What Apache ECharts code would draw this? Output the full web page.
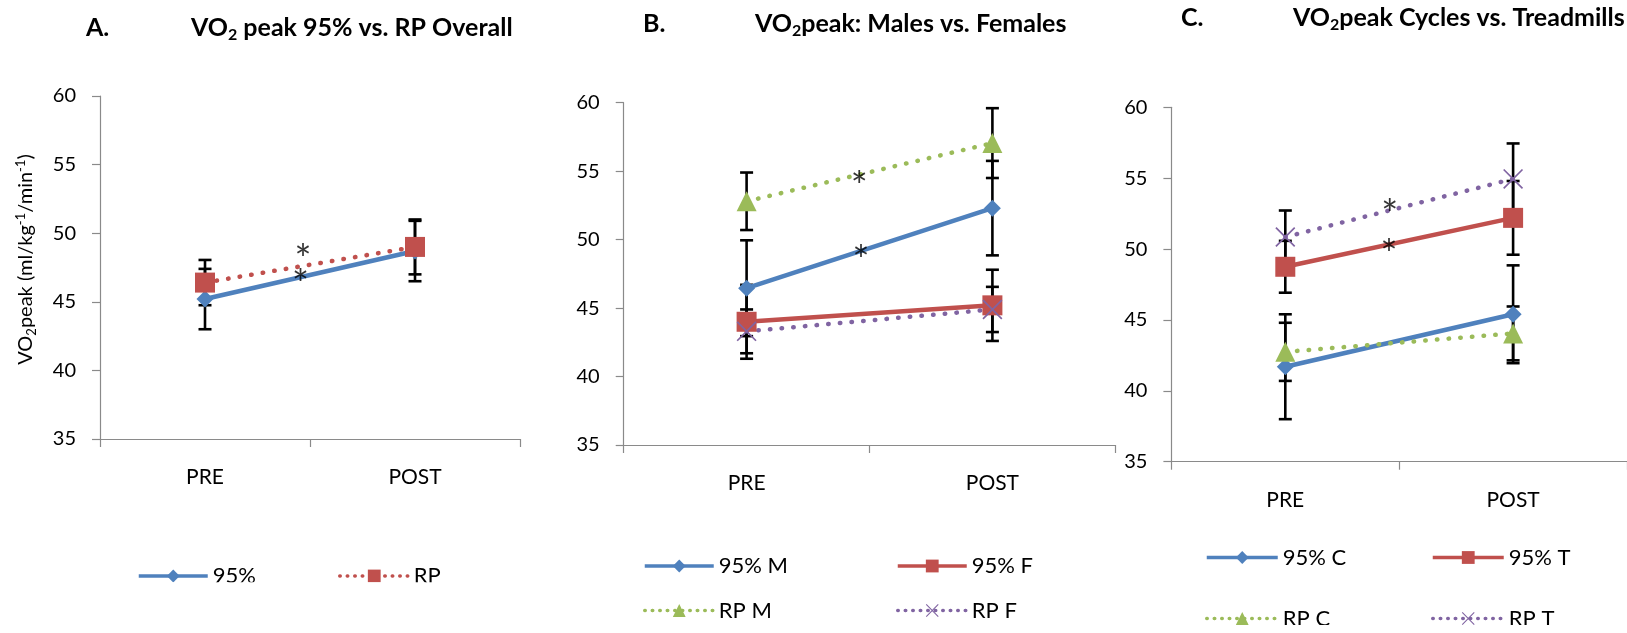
<!DOCTYPE html>
<html>
<head>
<meta charset="utf-8">
<script src="https://cdn.jsdelivr.net/npm/echarts@6/dist/echarts.min.js"></script>
<style>
  html, body { margin: 0; padding: 0; background: #fff; }
  #main { width: 1627px; height: 633px; }
</style>
</head>
<body>
<div id="main"></div>
<script>
// ---- data ----
var categories = ['PRE', 'POST'];

// A. overall
var a95 = [45.2, 48.7];
var a95Err = [2.2, 2.2];
var aRP = [46.4, 49.0];
var aRPErr = [1.65, 2.0];
var aStars = [[0.967, 48.63], [0.955, 46.78]];

// B. males vs females
var b95M = [46.45, 52.3];
var b95MErr = [3.5, 3.45];
var b95F = [44.0, 45.2];
var b95FErr = [2.7, 2.6];
var bRPM = [52.8, 57.05];
var bRPMErr = [2.1, 2.55];
var bRPF = [43.3, 44.9];
var bRPFErr = [1.6, 1.65];
var bStars = [[0.958, 54.4], [0.965, 49.05]];

// C. cycles vs treadmills
var c95C = [41.7, 45.4];
var c95CErr = [3.7, 3.45];
var c95T = [48.75, 52.2];
var c95TErr = [1.83, 2.6];
var cRPC = [42.75, 44.05];
var cRPCErr = [2.05, 1.9];
var cRPT = [50.85, 54.95];
var cRPTErr = [1.87, 2.5];
var cStars = [[0.958, 52.98], [0.955, 50.16]];

// ---- styles ----
var BLUE = '#4F81BD', RED = '#C0504D', GREEN = '#9BBB59', PURPLE = '#8064A2';
var FONT = 'Lato';
var CROSS = 'path://M0,0.6L0.6,0L10,9.4L9.4,10ZM9.4,0L10,0.6L0.6,10L0,9.4Z';

var myChart = echarts.init(document.getElementById('main'));

function lineSeries(name, data, g, color, dotted, symbol, size) {
  return {
    name: name,
    type: 'line',
    xAxisIndex: g,
    yAxisIndex: g,
    data: data,
    z: 3,
    animation: false,
    symbol: symbol,
    symbolSize: size,
    showSymbol: true,
    itemStyle: { color: color },
    lineStyle: dotted
      ? { color: color, width: 4.5, type: [0.5, 11.2], cap: 'round' }
      : { color: color, width: 4.5, type: 'solid' }
  };
}

function errSeries(g, means, errs) {
  var d = [];
  for (var i = 0; i < means.length; i++) {
    d.push([i, means[i] - errs[i], means[i] + errs[i]]);
  }
  return {
    type: 'custom',
    xAxisIndex: g,
    yAxisIndex: g,
    z: 1,
    animation: false,
    encode: { x: 0, y: [1, 2] },
    data: d,
    renderItem: function (params, api) {
      var lo = api.coord([api.value(0), api.value(1)]);
      var hi = api.coord([api.value(0), api.value(2)]);
      var h = 6.5;
      var st = { stroke: '#000', lineWidth: 2.6 };
      return {
        type: 'group',
        children: [
          { type: 'line', shape: { x1: hi[0], y1: hi[1], x2: lo[0], y2: lo[1] }, style: st },
          { type: 'line', shape: { x1: hi[0] - h, y1: hi[1], x2: hi[0] + h, y2: hi[1] }, style: st },
          { type: 'line', shape: { x1: lo[0] - h, y1: lo[1], x2: lo[0] + h, y2: lo[1] }, style: st }
        ]
      };
    }
  };
}

function starSeries(g, pts) {
  return {
    type: 'scatter',
    xAxisIndex: 3 + g,
    yAxisIndex: g,
    z: 5,
    animation: false,
    symbol: 'circle',
    symbolSize: 1,
    itemStyle: { color: 'rgba(0,0,0,0)' },
    label: {
      show: true,
      position: 'inside',
      formatter: '*',
      color: '#000',
      fontFamily: FONT,
      fontSize: 40,
      offset: [0, 9]
    },
    data: pts
  };
}

var grids = [
  { left: 100, top: 96, width: 420, height: 343 },
  { left: 623.7, top: 102.7, width: 491.6, height: 342.3 },
  { left: 1171.4, top: 107.3, width: 471, height: 354.4 }
];

var xAxes = [];
var yAxes = [];
for (var g = 0; g < 3; g++) {
  xAxes.push({
    type: 'category',
    gridIndex: g,
    data: categories,
    boundaryGap: true,
    axisLine: { show: true, onZero: false, lineStyle: { color: '#8a8a8a', width: 1.2 } },
    axisTick: { show: true, length: 8, lineStyle: { color: '#8a8a8a', width: 1.2 } },
    axisLabel: { color: '#000', fontFamily: FONT, fontSize: 21, margin: 28 },
    splitLine: { show: false }
  });
  yAxes.push({
    type: 'value',
    gridIndex: g,
    min: 35,
    max: 60,
    interval: 5,
    axisLine: { show: true, lineStyle: { color: '#8a8a8a', width: 1.2 } },
    axisTick: { show: true, length: 8, lineStyle: { color: '#8a8a8a', width: 1.2 } },
    axisLabel: { color: '#000', fontFamily: FONT, fontSize: 20, margin: 24 },
    splitLine: { show: false }
  });
}
// hidden axes used to place the asterisks between PRE and POST
for (var k = 0; k < 3; k++) {
  xAxes.push({ type: 'value', gridIndex: k, min: 0, max: 2, show: false });
}

yAxes[0].name = '{t|VO}{sub|2}{t|peak (ml/kg}{sup|-1}{t|/min}{sup|-1}{t|)}';
yAxes[0].nameLocation = 'middle';
yAxes[0].nameRotate = 90;
yAxes[0].nameGap = 62;
yAxes[0].nameTextStyle = {
  color: '#000',
  fontFamily: FONT,
  fontSize: 20,
  padding: [0, 0, 0, 16],
  rich: {
    t: { fontFamily: FONT, fontSize: 20, lineHeight: 24, color: '#000' },
    sub: { fontFamily: FONT, fontSize: 13, lineHeight: 13, verticalAlign: 'bottom', color: '#000' },
    sup: { fontFamily: FONT, fontSize: 13, lineHeight: 13, verticalAlign: 'top', color: '#000' }
  }
};

var titleRich = {
  m: { fontFamily: FONT, fontWeight: 'bold', fontSize: 25, lineHeight: 30, color: '#000' },
  s: { fontFamily: FONT, fontWeight: 'bold', fontSize: 16, lineHeight: 16, verticalAlign: 'bottom', color: '#000' }
};
var letterStyle = { fontFamily: FONT, fontWeight: 'bold', fontSize: 25, lineHeight: 30, color: '#000' };

function legendItem(name, left, top, w, dotted) {
  return {
    data: [name],
    left: left,
    top: top,
    padding: 0,
    itemGap: 0,
    itemWidth: w,
    itemHeight: 16,
    lineStyle: dotted
      ? { width: 3.5, type: [0.5, 7], cap: 'round' }
      : { width: 3.5 },
    textStyle: { color: '#000', fontFamily: FONT, fontSize: 22 }
  };
}

var whiteBox = function (x, y, w, h) {
  return { type: 'rect', z: 100, shape: { x: x, y: y, width: w, height: h }, style: { fill: '#fff' } };
};

myChart.setOption({
  animation: false,
  textStyle: { fontFamily: FONT },
  title: [
    { text: 'A.', left: 86, top: 13, padding: 0, textStyle: letterStyle },
    { text: '{m|VO}{s|2}{m| peak 95% vs. RP Overall}', left: 191, top: 13, padding: 0, textStyle: { rich: titleRich } },
    { text: 'B.', left: 643, top: 9, padding: 0, textStyle: letterStyle },
    { text: '{m|VO}{s|2}{m|peak: Males vs. Females}', left: 755, top: 9, padding: 0, textStyle: { rich: titleRich } },
    { text: 'C.', left: 1181, top: 3, padding: 0, textStyle: letterStyle },
    { text: '{m|VO}{s|2}{m|peak Cycles vs. Treadmills}', left: 1293, top: 3, padding: 0, textStyle: { rich: titleRich } }
  ],
  legend: [
    legendItem('95%', 137, 565, 69, false),
    legendItem('RP', 338, 565, 69, true),
    legendItem('95% M', 643, 555, 69, false),
    legendItem('95% F', 896, 555, 69, false),
    legendItem('RP M', 643, 599.5, 69, true),
    legendItem('RP F', 896, 599.5, 69, true),
    legendItem('95% C', 1205, 546.5, 71, false),
    legendItem('95% T', 1431, 546.5, 71, false),
    legendItem('RP C', 1205, 607.5, 71, true),
    legendItem('RP T', 1431, 607.5, 71, true)
  ],
  grid: grids,
  xAxis: xAxes,
  yAxis: yAxes,
  graphic: [
    whiteBox(0, 582.3, 600, 60),
    whiteBox(600, 620, 520, 20),
    whiteBox(1120, 625, 507, 20)
  ],
  series: [
    errSeries(0, a95, a95Err),
    errSeries(0, aRP, aRPErr),
    lineSeries('95%', a95, 0, BLUE, false, 'diamond', 17),
    lineSeries('RP', aRP, 0, RED, true, 'rect', 20),
    starSeries(0, aStars),

    errSeries(1, b95M, b95MErr),
    errSeries(1, b95F, b95FErr),
    errSeries(1, bRPM, bRPMErr),
    errSeries(1, bRPF, bRPFErr),
    lineSeries('95% M', b95M, 1, BLUE, false, 'diamond', 17),
    lineSeries('95% F', b95F, 1, RED, false, 'rect', 20),
    lineSeries('RP M', bRPM, 1, GREEN, true, 'triangle', 20),
    lineSeries('RP F', bRPF, 1, PURPLE, true, CROSS, 20),
    starSeries(1, bStars),

    errSeries(2, c95C, c95CErr),
    errSeries(2, c95T, c95TErr),
    errSeries(2, cRPC, cRPCErr),
    errSeries(2, cRPT, cRPTErr),
    lineSeries('95% C', c95C, 2, BLUE, false, 'diamond', 17),
    lineSeries('95% T', c95T, 2, RED, false, 'rect', 20),
    lineSeries('RP C', cRPC, 2, GREEN, true, 'triangle', 20),
    lineSeries('RP T', cRPT, 2, PURPLE, true, CROSS, 20),
    starSeries(2, cStars)
  ]
});
</script>
</body>
</html>
